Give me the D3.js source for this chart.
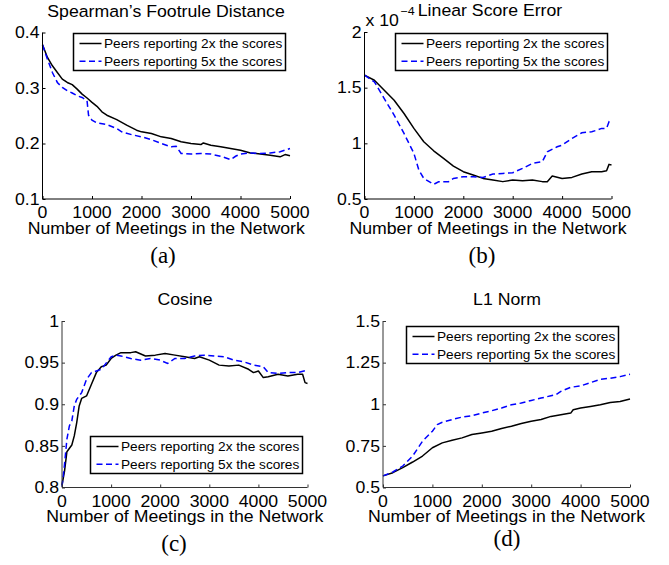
<!DOCTYPE html>
<html>
<head>
<meta charset="utf-8">
<script src="https://cdn.jsdelivr.net/npm/d3@7"></script>
<style>
  body { margin: 0; background: #fff; }
  text { font-family: "Liberation Sans", Arial, Helvetica, sans-serif; fill: #000; }
  .capTxt { font-family: "Liberation Serif", "Times New Roman", serif; }
</style>
</head>
<body>
<div id="chart"></div>
<script>
// legend labels
var seriesNames = ["Peers reporting 2x the scores", "Peers reporting 5x the scores"];
var xTicks = [0, 1000, 2000, 3000, 4000, 5000];

// (a) Spearman's footrule distance
var footrule2xX = [0,100,200,300,400,500,600,700,800,900,1000,1100,1200,1300,1500,1700,1900,2000,2200,2400,2600,2800,3000,3200,3250,3400,3600,3800,4000,4200,4400,4600,4800,4900,5000];
var footrule2xY = [0.378,0.355,0.340,0.328,0.316,0.310,0.306,0.298,0.289,0.282,0.274,0.267,0.257,0.251,0.243,0.233,0.224,0.221,0.218,0.212,0.209,0.203,0.200,0.198,0.201,0.197,0.194,0.191,0.188,0.183,0.181,0.179,0.176,0.180,0.178];
var footrule5xX = [0,100,200,300,400,500,600,700,800,900,930,1000,1100,1300,1500,1600,1800,2000,2200,2400,2600,2700,2800,3000,3200,3400,3600,3800,3900,4000,4200,4400,4600,4800,5000];
var footrule5xY = [0.378,0.352,0.328,0.310,0.301,0.295,0.291,0.286,0.283,0.277,0.251,0.242,0.237,0.234,0.227,0.221,0.216,0.212,0.207,0.200,0.194,0.195,0.182,0.181,0.182,0.181,0.177,0.171,0.177,0.181,0.183,0.182,0.183,0.185,0.191];
var footruleTicks = [0.1, 0.2, 0.3, 0.4];

// (b) linear score error (x 10^-4)
var linear2xX = [0,200,400,600,800,1000,1200,1400,1600,1800,2000,2200,2400,2600,2800,3000,3200,3400,3600,3700,3800,4000,4200,4400,4600,4800,4900,4950,5000];
var linear2xY = [1.612,1.567,1.477,1.387,1.268,1.134,1.014,0.933,0.865,0.796,0.745,0.715,0.685,0.670,0.656,0.670,0.664,0.670,0.656,0.656,0.706,0.685,0.694,0.724,0.745,0.745,0.754,0.811,0.805];
var linear5xX = [0,200,400,600,800,1000,1100,1200,1400,1500,1700,1800,2000,2200,2400,2600,2800,3000,3200,3400,3600,3700,3900,4000,4200,4400,4600,4700,4800,4900,4950,5000];
var linear5xY = [1.612,1.552,1.402,1.253,1.089,0.910,0.760,0.685,0.632,0.655,0.655,0.685,0.700,0.700,0.694,0.724,0.730,0.736,0.775,0.820,0.835,0.924,0.969,0.984,1.044,1.095,1.104,1.118,1.134,1.134,1.193,1.184];
var linearTicks = [0.5, 1, 1.5, 2];

// (c) cosine
var cosine2xX = [0,50,100,200,250,300,350,400,500,600,700,800,900,1000,1100,1200,1400,1500,1700,1900,2100,2300,2500,2700,2800,3000,3200,3400,3600,3800,3900,4000,4100,4200,4400,4600,4800,4900,4950,5000];
var cosine2xY = [0.803,0.819,0.843,0.851,0.862,0.878,0.898,0.907,0.910,0.924,0.938,0.945,0.947,0.955,0.959,0.962,0.962,0.963,0.958,0.959,0.961,0.959,0.957,0.955,0.957,0.953,0.947,0.946,0.947,0.942,0.938,0.940,0.932,0.933,0.936,0.934,0.936,0.936,0.926,0.925];
var cosine5xX = [0,50,100,150,200,250,300,400,500,600,700,800,1000,1100,1200,1400,1600,1800,2000,2150,2300,2500,2700,2900,3100,3300,3500,3700,3900,4100,4200,4400,4600,4800,5000];
var cosine5xY = [0.801,0.827,0.858,0.874,0.880,0.898,0.906,0.914,0.930,0.938,0.940,0.942,0.957,0.959,0.958,0.955,0.953,0.955,0.953,0.949,0.955,0.955,0.958,0.959,0.958,0.957,0.953,0.951,0.947,0.945,0.938,0.937,0.938,0.938,0.941];
var cosineTicks = [0.8, 0.85, 0.9, 0.95, 1];

// (d) L1 norm
var l1norm2xX = [0,200,400,600,800,1000,1200,1400,1600,1800,2000,2200,2400,2600,2800,3000,3200,3400,3600,3800,3850,4000,4200,4400,4600,4800,5000];
var l1norm2xY = [0.570,0.589,0.619,0.653,0.689,0.739,0.768,0.784,0.798,0.818,0.828,0.838,0.854,0.868,0.884,0.898,0.908,0.927,0.937,0.947,0.967,0.977,0.987,0.997,1.011,1.017,1.031];
var l1norm5xX = [0,200,400,600,800,1000,1100,1200,1400,1600,1800,2000,2200,2400,2600,2800,3000,3200,3400,3500,3600,3800,4000,4200,4400,4600,4800,5000];
var l1norm5xY = [0.570,0.593,0.629,0.689,0.778,0.838,0.878,0.892,0.908,0.923,0.931,0.947,0.961,0.977,0.997,1.007,1.023,1.037,1.051,1.057,1.077,1.102,1.110,1.130,1.150,1.156,1.166,1.180];
var l1normTicks = [0.5, 0.75, 1, 1.25, 1.5];

var svg = d3.select("#chart").append("svg")
  .attr("width", 669)
  .attr("height", 565);

var wideX = 1.085; // the figure's sans text is a bit wider than Liberation Sans

function zipSeries(xs, ys) {
  var out = [];
  for (var i = 0; i < xs.length; i++) {
    out.push({ x: xs[i], y: ys[i] });
  }
  return out;
}

// sans text, stretched horizontally around its anchor point
function wText(parent, x, y, size, str, anchor) {
  return parent.append("text")
    .attr("transform", "translate(" + x + "," + y + ") scale(" + wideX + ",1)")
    .attr("text-anchor", anchor || "start")
    .attr("font-size", size)
    .text(str);
}

function drawPanel(cfg) {
  var x = d3.scaleLinear().domain([0, 5000]).range([cfg.left, cfg.right]);
  var y = d3.scaleLinear().domain([cfg.yTicks[0], cfg.yTicks[cfg.yTicks.length - 1]]).range([cfg.bottom, cfg.top]);
  var g = svg.append("g");

  var line = d3.line()
    .x(function(d) { return x(d.x); })
    .y(function(d) { return y(d.y); });

  // series
  g.append("path")
    .datum(zipSeries(cfg.x2, cfg.y2))
    .attr("d", line)
    .attr("fill", "none")
    .attr("stroke", "#000")
    .attr("stroke-width", 1.5)
    .attr("stroke-linejoin", "round");
  g.append("path")
    .datum(zipSeries(cfg.x5, cfg.y5))
    .attr("d", line)
    .attr("fill", "none")
    .attr("stroke", "#0000ff")
    .attr("stroke-width", 1.5)
    .attr("stroke-dasharray", "6,3.5");

  // axes, ticks pointing inward, no box
  var xAxis = g.append("g")
    .attr("transform", "translate(0," + cfg.bottom + ")")
    .call(d3.axisTop(x).tickValues(xTicks).tickSize(3).tickFormat(""));
  var yAxis = g.append("g")
    .attr("transform", "translate(" + cfg.left + ",0)")
    .call(d3.axisRight(y).tickValues(cfg.yTicks).tickSize(3).tickFormat(""));
  xAxis.select(".domain").attr("d", "M" + cfg.left + ",0H" + cfg.right).attr("stroke", cfg.axisColor);
  yAxis.select(".domain").attr("d", "M0," + cfg.bottom + "V" + cfg.top).attr("stroke", cfg.axisColor);
  xAxis.selectAll(".tick line").attr("stroke", cfg.axisColor);
  yAxis.selectAll(".tick line").attr("stroke", cfg.axisColor);

  // tick labels
  xTicks.forEach(function(d) {
    wText(g, x(d), cfg.bottom + 19, 16.3, d, "middle");
  });
  cfg.yTicks.forEach(function(d) {
    wText(g, cfg.left - 3, y(d) + 5.8, 16.3, d3.format("")(d), "end");
  });

  // titles
  wText(g, cfg.titleX, cfg.top - 15.8, 16.3, cfg.title, "middle");
  wText(g, (cfg.left + cfg.right) / 2, cfg.bottom + 34.5, 16.3, "Number of Meetings in the Network", "middle");
  g.append("text")
    .attr("class", "capTxt")
    .attr("x", cfg.capX)
    .attr("y", cfg.capY)
    .attr("text-anchor", "middle")
    .attr("font-size", 23)
    .text(cfg.caption);

  // legend
  var lg = g.append("g").attr("transform", "translate(" + cfg.legX + "," + cfg.legY + ")");
  lg.append("rect")
    .attr("width", 212)
    .attr("height", 37)
    .attr("fill", "#fff")
    .attr("stroke", "#000")
    .attr("stroke-width", 1.5);
  seriesNames.forEach(function(nm, i) {
    var ry = 10 + i * 17.7;
    lg.append("line")
      .attr("x1", 6).attr("x2", 28)
      .attr("y1", ry).attr("y2", ry)
      .attr("stroke", i == 0 ? "#000" : "#0000ff")
      .attr("stroke-width", 1.5)
      .attr("stroke-dasharray", i == 0 ? null : "6,3.5");
    wText(lg, 30.5, ry + 4.6, 12.6, nm, "start");
  });
}

drawPanel({
  title: "Spearman\u2019s Footrule Distance", caption: "(a)",
  left: 42.5, right: 290, top: 32.5, bottom: 199, axisColor: "#000",
  yTicks: footruleTicks, x2: footrule2xX, y2: footrule2xY, x5: footrule5xX, y5: footrule5xY,
  titleX: 166, capX: 163, capY: 263, legX: 73.5, legY: 33.5
});
drawPanel({
  title: "Linear Score Error", caption: "(b)",
  left: 364.5, right: 611.5, top: 32, bottom: 199, axisColor: "#000",
  yTicks: linearTicks, x2: linear2xX, y2: linear2xY, x5: linear5xX, y5: linear5xY,
  titleX: 490, capX: 482, capY: 263, legX: 395.5, legY: 33.5
});
drawPanel({
  title: "Cosine", caption: "(c)",
  left: 62, right: 307.5, top: 321, bottom: 487.5, axisColor: "#333",
  yTicks: cosineTicks, x2: cosine2xX, y2: cosine2xY, x5: cosine5xX, y5: cosine5xY,
  titleX: 185, capX: 174, capY: 551, legX: 90.5, legY: 436.5
});
drawPanel({
  title: "L1 Norm", caption: "(d)",
  left: 383, right: 630, top: 321, bottom: 487.5, axisColor: "#333",
  yTicks: l1normTicks, x2: l1norm2xX, y2: l1norm2xY, x5: l1norm5xX, y5: l1norm5xY,
  titleX: 507, capX: 507, capY: 546, legX: 406.5, legY: 326.5
});

// exponent label for (b)
wText(svg, 365.5, 26, 16.3, "x 10", "start");
wText(svg, 400.5, 15, 11.5, "\u22124", "start");
</script>
</body>
</html>
